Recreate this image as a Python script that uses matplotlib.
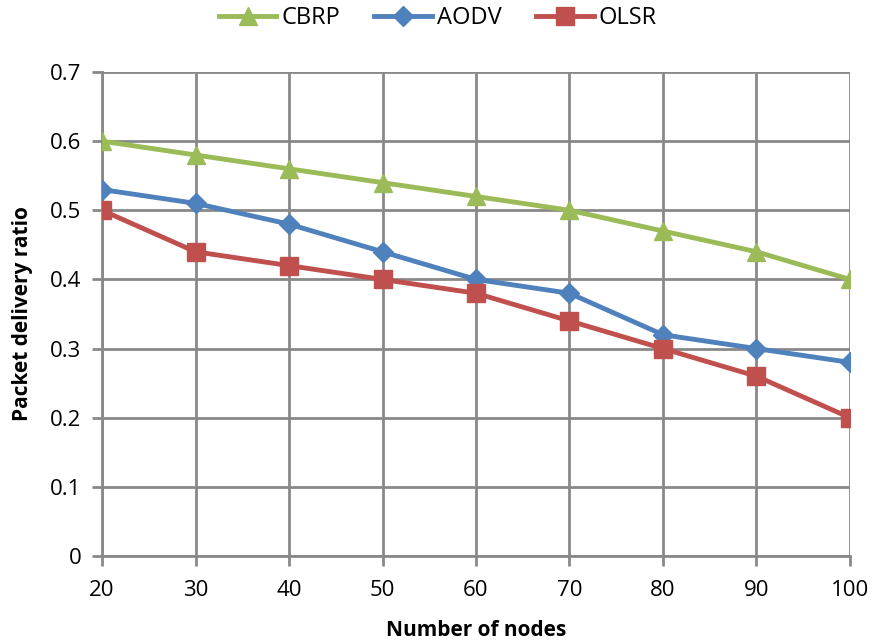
import matplotlib
matplotlib.use("Agg")
import matplotlib.pyplot as plt

# data
nodes = [20, 30, 40, 50, 60, 70, 80, 90, 100]
cbrp = [0.60, 0.58, 0.56, 0.54, 0.52, 0.50, 0.47, 0.44, 0.40]
aodv = [0.53, 0.51, 0.48, 0.44, 0.40, 0.38, 0.32, 0.30, 0.28]
olsr = [0.50, 0.44, 0.42, 0.40, 0.38, 0.34, 0.30, 0.26, 0.20]
yticks = [0, 0.1, 0.2, 0.3, 0.4, 0.5, 0.6, 0.7]

plt.rcParams['font.family'] = ['Open Sans', 'DejaVu Sans']

fig = plt.figure(figsize=(8.75, 6.44), dpi=100)
ax = fig.add_axes([0.1166, 0.1366, 0.8548, 0.7516])

grid_c = '#898989'
l1, = ax.plot(nodes, cbrp, color='#9BBB59', lw=3.5, marker='^', ms=13, label='CBRP', zorder=3)
l2, = ax.plot(nodes, aodv, color='#4F81BD', lw=3.5, marker='D', ms=10, label='AODV', zorder=4)
l3, = ax.plot(nodes, olsr, color='#C0504D', lw=3.5, marker='s', ms=13, label='OLSR', zorder=5)

ax.set_xlim(20, 100)
ax.set_ylim(0, 0.7)
ax.set_xticks(nodes)
ax.set_yticks(yticks)
ax.set_yticklabels(['0', '0.1', '0.2', '0.3', '0.4', '0.5', '0.6', '0.7'])
ax.grid(True, color=grid_c, lw=2)
ax.set_axisbelow(True)
for side in ['top', 'right']:
    ax.spines[side].set_visible(False)
for side in ['left', 'bottom']:
    ax.spines[side].set_color(grid_c)
    ax.spines[side].set_linewidth(2)
ax.tick_params(axis='both', colors=grid_c, width=2, length=7, labelsize=16, labelcolor='black')
ax.tick_params(axis='x', pad=10)
ax.tick_params(axis='y', pad=8)
for lab in ax.get_xticklabels() + ax.get_yticklabels():
    lab.set_clip_on(False)

ax.set_xlabel('Number of nodes', fontsize=15, fontweight='bold', labelpad=14)
ax.set_ylabel('Packet delivery ratio', fontsize=15, fontweight='bold', labelpad=12)

fig.legend(handles=[l1, l2, l3], loc='center', bbox_to_anchor=(0.5, 0.972), ncol=3,
           frameon=False, fontsize=17, handlelength=2.45, columnspacing=1.45,
           handletextpad=0.2, borderaxespad=0)

fig.savefig('out.png', dpi=100)
